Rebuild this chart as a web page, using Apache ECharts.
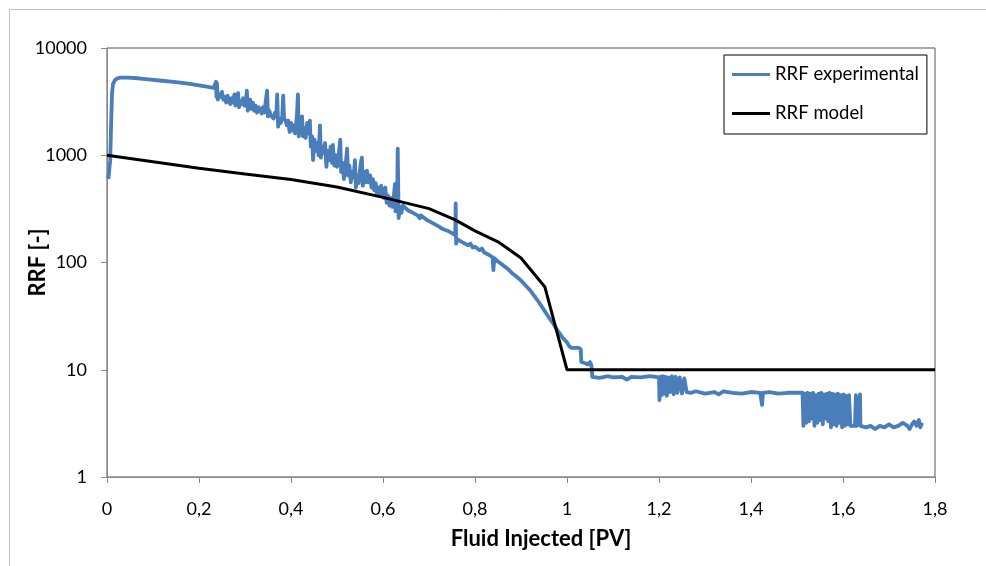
<!DOCTYPE html>
<html>
<head>
<meta charset="utf-8">
<script src="https://cdn.jsdelivr.net/npm/echarts@6/dist/echarts.min.js"></script>
<style>
html,body{margin:0;padding:0;background:#fff;}
#c{width:986px;height:566px;}
</style>
</head>
<body>
<div id="c"></div>
<script>
// ---- data ----
const seriesNames = ['RRF experimental', 'RRF model'];
const xTicks = [0, 0.2, 0.4, 0.6, 0.8, 1, 1.2, 1.4, 1.6, 1.8];
const yTicks = [1, 10, 100, 1000, 10000];

const modelX = [0, 0.1, 0.2, 0.3, 0.4, 0.5, 0.6, 0.7, 0.757, 0.8, 0.85, 0.9, 0.952, 1.0, 1.8];
const modelY = [1000, 870, 755, 670, 595, 505, 405, 318, 250, 197, 156, 110, 59, 10, 10];

const expX = [
0.003,0.005,0.007,0.009,0.011,0.013,0.017,0.022,0.03,0.045,0.06,0.09,0.12,0.15,0.18,0.21,0.232,
0.235,0.237,0.238,0.239,0.241,0.244,0.247,0.25,0.253,0.256,0.259,0.262,0.265,0.268,0.271,0.274,0.277,0.279,
0.282,0.285,0.287,0.29,0.293,0.296,0.299,0.302,0.304,0.306,0.309,0.311,0.314,0.317,0.320,0.323,0.326,0.330,
0.333,0.336,0.339,0.342,0.345,0.348,0.350,0.353,0.356,0.359,0.362,0.365,0.368,0.370,0.372,0.375,0.378,0.381,
0.383,0.385,0.388,0.391,0.394,0.397,0.400,0.403,0.406,0.409,0.413,0.415,0.417,0.420,0.422,0.424,0.426,0.429,
0.432,0.435,0.438,0.441,0.443,0.446,0.448,0.451,0.454,0.457,0.460,0.463,0.465,0.468,0.471,0.474,0.477,0.480,
0.483,0.486,0.489,0.491,0.494,0.497,0.500,0.503,0.507,0.509,0.512,0.515,0.518,0.522,0.524,0.527,0.530,0.533,
0.536,0.539,0.541,0.544,0.547,0.551,0.554,0.556,0.559,0.562,0.565,0.568,0.572,0.575,0.578,0.581,0.584,0.587,
0.590,0.593,0.596,0.599,0.602,0.605,0.608,0.611,0.614,0.617,0.620,0.623,0.626,0.627,0.629,0.631,0.632,0.634,
0.637,0.640,0.643,0.648,0.655,0.665,0.675,0.680,0.682,0.695,0.71,0.72,0.73,0.74,0.75,0.757,0.758,0.759,0.761,
0.765,0.772,0.775,0.785,0.79,0.795,0.80,0.81,0.815,0.82,0.83,0.838,0.840,0.842,0.85,0.86,0.87,0.88,0.89,0.90,
0.91,0.92,0.93,0.94,0.95,0.96,0.97,0.98,0.99,1.00,1.005,1.01,1.02,1.025,1.03,1.031,1.04,1.045,1.05,1.053,1.055,
1.07,1.09,1.10,1.12,1.13,1.14,1.16,1.18,1.2,1.201,1.203,1.206,1.208,1.211,1.214,1.217,1.22,1.224,1.228,1.232,
1.236,1.24,1.245,1.25,1.255,1.26,1.27,1.28,1.30,1.32,1.33,1.34,1.36,1.38,1.40,1.42,1.424,1.426,1.44,1.46,1.48,
1.50,1.512,1.514,1.517,1.520,1.523,1.526,1.529,1.532,1.535,1.538,1.541,1.544,1.547,1.550,1.553,1.556,1.559,
1.562,1.565,1.568,1.571,1.574,1.577,1.580,1.583,1.586,1.589,1.592,1.595,1.598,1.601,1.604,1.607,1.610,1.613,
1.616,1.62,1.626,1.628,1.630,1.637,1.638,1.64,1.65,1.66,1.67,1.68,1.69,1.70,1.71,1.72,1.73,1.74,1.745,1.75,
1.755,1.76,1.765,1.768,1.772
];
const expY = [
600,580,900,2000,3800,4600,5000,5200,5300,5300,5250,5100,4950,4800,4620,4400,4240,
4300,4850,3500,4700,3300,3700,3500,3900,3300,3500,3100,3600,3300,3000,3400,3100,3700,2900,
3400,3800,2800,3200,3000,3400,2900,3200,4000,2600,3100,3300,2700,3100,2600,2900,2500,2800,
2600,2450,2800,2500,2450,4000,2300,2600,2350,2400,2200,2500,2300,3700,1850,2200,2000,2300,
3600,2200,2100,1900,2100,1650,2000,1700,1900,1600,2400,3700,1500,2100,1700,2300,1500,1800,
1450,2000,1600,2100,1200,1500,900,1400,1100,1300,1000,1900,950,1200,1050,1300,780,1100,
900,1200,850,1250,800,1000,780,950,1400,700,850,600,750,1150,650,800,560,700,
620,900,500,650,550,800,950,520,700,560,720,560,650,500,600,470,550,430,
500,420,520,440,400,500,360,420,340,400,330,390,540,300,380,460,1150,260,
330,290,340,325,305,290,275,258,275,250,230,218,205,198,188,180,355,150,165,
170,155,160,145,150,138,140,130,135,124,118,112,85,110,102,95,88,80,74,68,
61,55,48,42,36,31,27,23,20,18,16.5,16,16,16,15.5,11.8,11.5,11.2,11.8,11,8.6,
8.4,8.7,8.5,8.6,8.1,8.6,8.5,8.7,8.5,5.2,8.6,5.8,8.7,6.0,8.6,5.7,8.5,6.2,8.7,5.9,
8.6,6.1,8.5,6.0,8.3,6.2,6.1,6.3,6.0,6.2,5.9,6.3,6.1,6.0,6.2,6.1,4.7,6.1,6.2,6.0,6.1,
6.1,6.1,3.0,6.0,3.2,6.1,3.3,6.0,3.5,6.1,3.0,5.8,3.2,6.0,3.4,6.1,3.1,5.9,
3.5,6.0,3.3,6.1,2.9,6.0,3.1,5.9,3.0,6.0,3.2,5.8,2.9,5.9,3.0,5.7,3.1,5.8,
3.0,3.1,3.0,5.8,3.0,5.9,3.0,3.1,2.9,3.0,2.8,3.0,2.9,3.1,2.9,3.0,3.2,3.0,2.8,3.1,
3.3,3.0,3.4,2.9,3.2
];

const expData = expX.map((x, i) => [x, expY[i]]);
const modelData = modelX.map((x, i) => [x, modelY[i]]);

const FONT = 'Lato, "Liberation Sans", sans-serif';
const chart = echarts.init(document.getElementById('c'), null, {renderer: 'canvas'});
chart.setOption({
  backgroundColor: '#fff',
  animation: false,
  graphic: [{
    type: 'rect', z: -10,
    shape: {x: 9.5, y: 9.5, width: 1000, height: 620},
    style: {fill: 'none', stroke: '#bfbfbf', lineWidth: 1}
  }],
  grid: {left: 107, right: 51, top: 48, bottom: 89, containLabel: false, outerBoundsMode: 'none',
    show: true, borderColor: '#555', borderWidth: 1, backgroundColor: 'transparent'},
  legend: {
    orient: 'vertical', left: 724, top: 55,
    borderColor: '#000', borderWidth: 1, borderRadius: 0,
    padding: [10, 8, 11, 8], itemGap: 20,
    itemWidth: 38, itemHeight: 3,
    textStyle: {fontFamily: FONT, fontSize: 18.5, color: '#000'},
    data: [
      {name: seriesNames[0], icon: 'rect'},
      {name: seriesNames[1], icon: 'rect'}
    ]
  },
  xAxis: {
    type: 'value', min: xTicks[0], max: xTicks[xTicks.length - 1], interval: 0.2,
    name: 'Fluid Injected [PV]', nameLocation: 'middle', nameGap: 51, nameMoveOverlap: false,
    nameTextStyle: {fontFamily: FONT, fontSize: 22, fontWeight: 'bold', color: '#000', padding: [0, 0, 0, 40]},
    axisLine: {lineStyle: {color: '#888', width: 1}},
    axisTick: {show: true, length: 6, lineStyle: {color: '#888'}},
    axisLabel: {fontFamily: FONT, fontSize: 18, color: '#000', margin: 23,
      formatter: v => String(Math.round(v * 10) / 10).replace('.', ',')},
    splitLine: {show: false}
  },
  yAxis: {
    type: 'log', logBase: 10, min: yTicks[0], max: yTicks[yTicks.length - 1],
    name: 'RRF [-]', nameLocation: 'middle', nameGap: 58, nameMoveOverlap: false,
    nameTextStyle: {fontFamily: FONT, fontSize: 22, fontWeight: 'bold', color: '#000'},
    axisLine: {show: true, lineStyle: {color: '#888', width: 1}},
    axisTick: {show: true, length: 6, lineStyle: {color: '#888'}},
    axisLabel: {fontFamily: FONT, fontSize: 18, color: '#000', margin: 20,
      formatter: v => String(Math.round(v))},
    splitLine: {show: false},
    minorTick: {show: false}
  },
  series: [
    {
      name: seriesNames[0], type: 'line', data: expData, showSymbol: false, symbol: 'none',
      lineStyle: {color: '#4a7ebb', width: 3.8, join: 'round'}, itemStyle: {color: '#4a7ebb'}, z: 2
    },
    {
      name: seriesNames[1], type: 'line', data: modelData, showSymbol: false, symbol: 'none',
      lineStyle: {color: '#000', width: 3}, itemStyle: {color: '#000'}, z: 3
    }
  ]
});
</script>
</body>
</html>
